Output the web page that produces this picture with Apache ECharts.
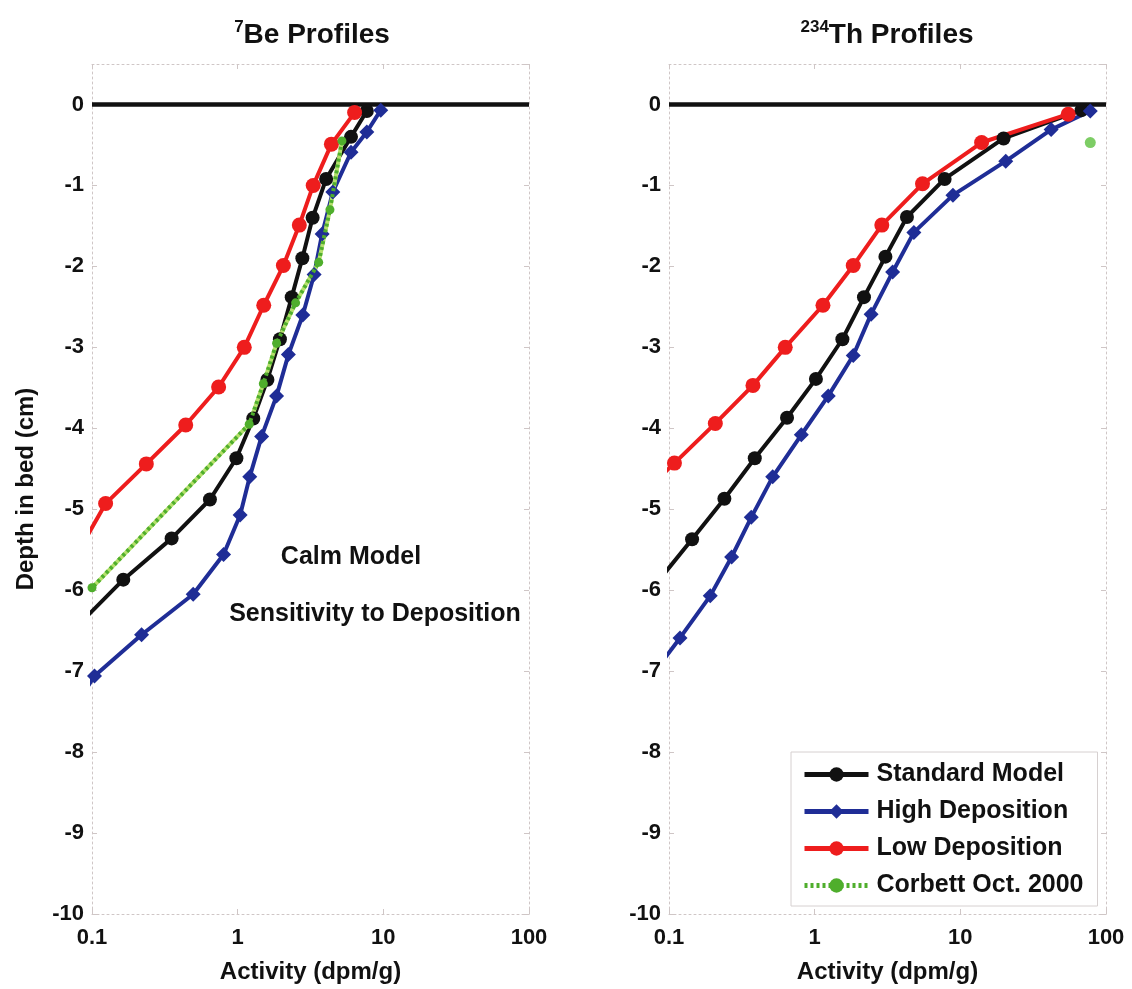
<!DOCTYPE html>
<html>
<head>
<meta charset="utf-8">
<title>7Be and 234Th Profiles</title>
<script src="https://cdn.jsdelivr.net/npm/echarts@6/dist/echarts.min.js"></script>
<style>
  html, body { margin: 0; padding: 0; background: #ffffff; }
  #chart { width: 1132px; height: 989px; }
</style>
</head>
<body>
<div id="chart"></div>
<script>
// ---- Data: activity (dpm/g) versus depth in bed (cm) ----
const seriesNames = ['Standard Model', 'High Deposition', 'Low Deposition', 'Corbett Oct. 2000'];
const xTickLabels = ['0.1', '1', '10', '100'];
const depthTicks = [0, -1, -2, -3, -4, -5, -6, -7, -8, -9, -10];

// sediment surface
const surfaceX = [0.1, 100];
const surfaceDepth = [0, 0];

// 7Be profiles
const beStandardX = [7.7, 6.0, 4.05, 3.27, 2.78, 2.35, 1.95, 1.6, 1.28, 0.98, 0.645, 0.352, 0.164, 0.087];
const beStandardDepth = [-0.08, -0.4, -0.92, -1.4, -1.9, -2.38, -2.9, -3.4, -3.88, -4.37, -4.88, -5.36, -5.87, -6.37];
const beHighX = [9.6, 7.7, 6.0, 4.5, 3.8, 3.35, 2.8, 2.23, 1.85, 1.46, 1.21, 1.04, 0.8, 0.495, 0.219, 0.104, 0.07];
const beHighDepth = [-0.07, -0.34, -0.59, -1.08, -1.6, -2.1, -2.6, -3.09, -3.6, -4.1, -4.6, -5.07, -5.56, -6.05, -6.55, -7.06, -7.55];
const beLowX = [6.35, 4.4, 3.3, 2.65, 2.06, 1.51, 1.11, 0.74, 0.44, 0.236, 0.124, 0.085];
const beLowDepth = [-0.1, -0.49, -1.0, -1.49, -1.99, -2.48, -3.0, -3.49, -3.96, -4.44, -4.93, -5.45];
const beCorbettX = [5.2, 4.3, 3.6, 2.5, 1.85, 1.5, 1.2, 0.1];
const beCorbettDepth = [-0.45, -1.3, -1.95, -2.45, -2.95, -3.45, -3.95, -5.97];

// 234Th profiles
const thStandardX = [68, 19.8, 7.8, 4.3, 3.06, 2.18, 1.55, 1.02, 0.646, 0.388, 0.24, 0.144, 0.086];
const thStandardDepth = [-0.07, -0.42, -0.92, -1.39, -1.88, -2.38, -2.9, -3.39, -3.87, -4.37, -4.87, -5.37, -5.87];
const thHighX = [78, 42, 20.5, 8.9, 4.8, 3.43, 2.44, 1.84, 1.24, 0.81, 0.515, 0.367, 0.269, 0.192, 0.119, 0.075];
const thHighDepth = [-0.08, -0.31, -0.7, -1.12, -1.58, -2.07, -2.59, -3.1, -3.6, -4.08, -4.6, -5.1, -5.59, -6.07, -6.59, -7.07];
const thLowX = [55, 14, 5.5, 2.89, 1.84, 1.14, 0.628, 0.377, 0.208, 0.109, 0.058];
const thLowDepth = [-0.12, -0.47, -0.98, -1.49, -1.99, -2.48, -3.0, -3.47, -3.94, -4.43, -4.9];
const thCorbettX = [78];
const thCorbettDepth = [-0.47];

// ---- Styling ----
const FONT = '"Liberation Sans", Arial, Helvetica, sans-serif';
const INK = '#111111';
const BLACK = '#111111';
const BLUE = '#1f2d96';
const RED = '#ee1d1d';
const GREEN = '#4fae2c';
const GREEN_LIGHT = '#b4e06c';
const FRAME = '#cfc6c6';

function zip(xs, ys) { return xs.map((x, i) => [x, ys[i]]); }

function xAxes(gridIndex) {
  const common = {
    gridIndex, type: 'log', logBase: 10, min: 0.1, max: 100,
    axisLine: { show: true, onZero: false, lineStyle: { color: FRAME, width: 1, type: [2, 3] } },
    axisTick: { show: true, inside: true, length: 5, lineStyle: { color: FRAME } },
    splitLine: { show: false }
  };
  return [
    Object.assign({}, common, {
      position: 'bottom',
      axisLabel: {
        show: true, margin: 13, color: INK, fontFamily: FONT, fontWeight: 'bold', fontSize: 22,
        formatter: v => { const s = String(+v.toPrecision(3)); return xTickLabels.includes(s) ? s : ''; }
      },
      name: 'Activity (dpm/g)', nameLocation: 'middle', nameGap: 46,
      nameTextStyle: { color: INK, fontFamily: FONT, fontWeight: 'bold', fontSize: 24 }
    }),
    Object.assign({}, common, { position: 'top', axisLabel: { show: false } })
  ];
}

function yAxes(gridIndex, name) {
  const common = {
    gridIndex, type: 'value', min: -10, max: 0.5, interval: 1,
    axisLine: { show: true, onZero: false, lineStyle: { color: FRAME, width: 1, type: [2, 3] } },
    axisTick: { show: true, inside: true, length: 5, lineStyle: { color: FRAME } },
    splitLine: { show: false }
  };
  const left = Object.assign({}, common, {
    position: 'left',
    axisLabel: {
      show: true, margin: 8, color: INK, fontFamily: FONT, fontWeight: 'bold', fontSize: 22,
      showMaxLabel: false,
      formatter: v => depthTicks.includes(v) ? String(v) : ''
    }
  });
  if (name) {
    left.name = name;
    left.nameLocation = 'middle';
    left.nameGap = 54;
    left.nameTextStyle = { color: INK, fontFamily: FONT, fontWeight: 'bold', fontSize: 24 };
  }
  return [left, Object.assign({}, common, { position: 'right', axisLabel: { show: false } })];
}

function profileLine(name, axisIdx, xs, ds, color, symbol, size) {
  return {
    name, type: 'line', xAxisIndex: axisIdx, yAxisIndex: axisIdx,
    data: zip(xs, ds), clip: true, silent: true, z: 3,
    symbol, symbolSize: size, showSymbol: true,
    lineStyle: { color, width: 4 },
    itemStyle: { color, borderWidth: 0 }
  };
}

function surface(axisIdx) {
  return {
    name: 'surface', type: 'line', xAxisIndex: axisIdx, yAxisIndex: axisIdx,
    data: zip(surfaceX, surfaceDepth), symbol: 'none', silent: true, z: 2,
    lineStyle: { color: BLACK, width: 4.5 }
  };
}

// left panel uses axes 0 (bottom/left), right panel uses axes 2
const series = [
  surface(0),
  profileLine(seriesNames[0], 0, beStandardX, beStandardDepth, BLACK, 'circle', 14),
  profileLine(seriesNames[1], 0, beHighX, beHighDepth, BLUE, 'diamond', 15),
  profileLine(seriesNames[2], 0, beLowX, beLowDepth, RED, 'circle', 15),
  {
    name: 'corbett-underlay', type: 'line', xAxisIndex: 0, yAxisIndex: 0,
    data: zip(beCorbettX, beCorbettDepth), symbol: 'none', silent: true, z: 3,
    lineStyle: { color: GREEN_LIGHT, width: 4 }
  },
  {
    name: seriesNames[3], type: 'line', xAxisIndex: 0, yAxisIndex: 0,
    data: zip(beCorbettX, beCorbettDepth), silent: true, z: 4,
    symbol: 'circle', symbolSize: 9,
    lineStyle: { color: GREEN, width: 4, type: [3, 3] },
    itemStyle: { color: GREEN }
  },
  surface(2),
  profileLine(seriesNames[0], 2, thStandardX, thStandardDepth, BLACK, 'circle', 14),
  profileLine(seriesNames[1], 2, thHighX, thHighDepth, BLUE, 'diamond', 15),
  profileLine(seriesNames[2], 2, thLowX, thLowDepth, RED, 'circle', 15),
  {
    name: seriesNames[3], type: 'scatter', xAxisIndex: 2, yAxisIndex: 2,
    data: zip(thCorbettX, thCorbettDepth), silent: true, z: 4,
    symbol: 'circle', symbolSize: 11, itemStyle: { color: '#5cc03e' }
  }
];

const titleRich = {
  sup: { fontFamily: FONT, fontWeight: 'bold', fontSize: 17, fill: INK, verticalAlign: 'top', lineHeight: 30 },
  t: { fontFamily: FONT, fontWeight: 'bold', fontSize: 28, fill: INK, verticalAlign: 'bottom', lineHeight: 30 }
};

const option = {
  backgroundColor: '#ffffff',
  animation: false,
  grid: [
    { left: 92, right: 603, top: 64, bottom: 74, containLabel: false },
    { left: 669, right: 26, top: 64, bottom: 74, containLabel: false }
  ],
  xAxis: [...xAxes(0), ...xAxes(1)],
  yAxis: [...yAxes(0, 'Depth in bed (cm)'), ...yAxes(1, null)],
  legend: {
    data: seriesNames,
    orient: 'vertical',
    left: 791, top: 752,
    itemWidth: 64, itemHeight: 18, itemGap: 12,
    padding: [10, 14, 8, 11],
    backgroundColor: '#ffffff',
    borderColor: '#d6d0d0', borderWidth: 1,
    selectedMode: false,
    lineStyle: { width: 5 },
    textStyle: { color: INK, fontFamily: FONT, fontWeight: 'bold', fontSize: 25, padding: [0, 0, 0, 3] }
  },
  graphic: [
    { type: 'text', x: 312, y: 19, style: { text: '{sup|7}{t|Be Profiles}', rich: titleRich, align: 'center' } },
    { type: 'text', x: 887, y: 19, style: { text: '{sup|234}{t|Th Profiles}', rich: titleRich, align: 'center' } },
    { type: 'text', x: 351, y: 557, style: { text: 'Calm Model', fill: INK, font: 'bold 25px ' + FONT, align: 'center', verticalAlign: 'middle' } },
    { type: 'text', x: 375, y: 614, style: { text: 'Sensitivity to Deposition', fill: INK, font: 'bold 25px ' + FONT, align: 'center', verticalAlign: 'middle' } }
  ],
  series
};

const chart = echarts.init(document.getElementById('chart'), null, { renderer: 'canvas' });
chart.setOption(option);
</script>
</body>
</html>
